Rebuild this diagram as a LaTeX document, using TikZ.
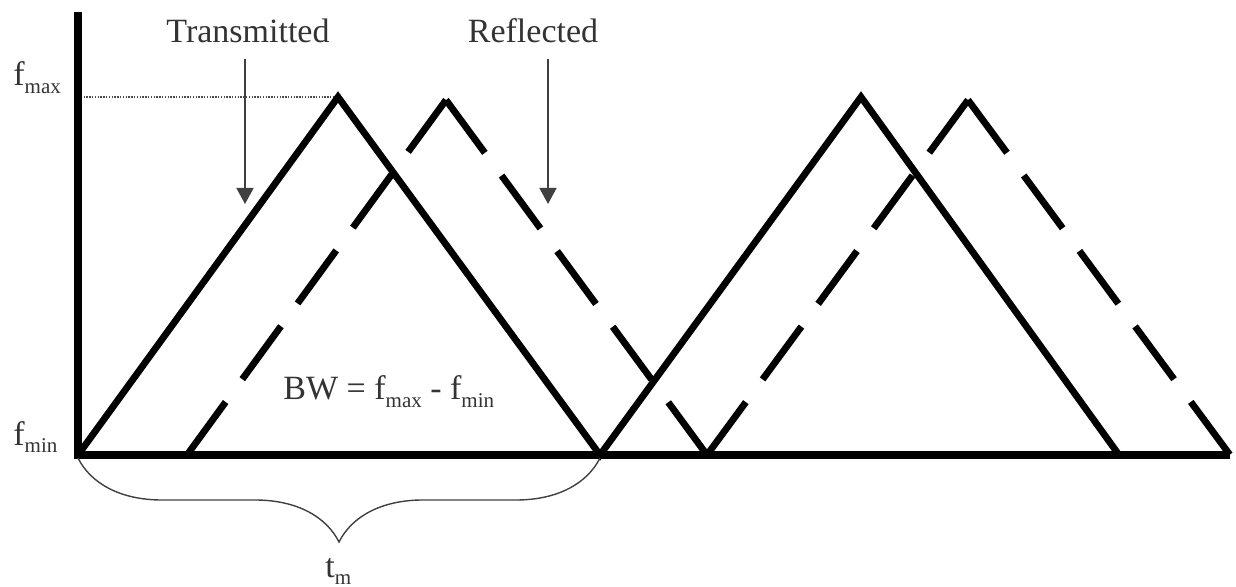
\documentclass[tikz,border=0pt]{standalone}
\usepackage{fontspec}
\setmainfont{Liberation Serif}
\usetikzlibrary{arrows.meta,decorations.pathreplacing}
\newcommand{\lowsub}[1]{\raisebox{-0.45ex}{\fontsize{10.5}{12}\selectfont #1}}

\begin{document}
\begin{tikzpicture}[x=0.5pt,y=-0.5pt,
  axis/.style={line width=3.6pt},
  trans/.style={line width=3.4pt},
  refl/.style={line width=3.4pt,dash pattern=on 32.8pt off 14.1pt},
  level/.style={line width=0.8pt,dash pattern=on 0.7pt off 0.7pt,black!70},
  pointer/.style={-{Triangle[length=8pt,width=8.5pt]},line width=0.7pt,black!75},
  tbrace/.style={decorate,decoration={brace,amplitude=42pt},line width=0.7pt,black!75},
  lbl/.style={font=\fontsize{17}{20}\selectfont,text=black!80,inner sep=0pt}]
  \useasboundingbox (0,0) rectangle (1236,587);
  \coordinate (ytop) at (78,12);
  \coordinate (xend) at (1230,455);
  \coordinate (t0) at (78,455);
  \coordinate (t1) at (338,97);
  \coordinate (t2) at (600,455);
  \coordinate (t3) at (861,97);
  \coordinate (t4) at (1119,455);
  \coordinate (r0) at (187,455);
  \coordinate (r1) at (446,100);
  \coordinate (r2) at (707,455);
  \coordinate (r3) at (968,100);
  \coordinate (r4) at (1230,455);
  \coordinate (txtip) at (245,204);
  \coordinate (rftip) at (548,204);

  \node[lbl,anchor=base west] (fmax) at (13,86) {f\lowsub{max}};
  \node[lbl,anchor=base west] (fmin) at (13,445) {f\lowsub{min}};
  \node[lbl,anchor=base] (tx) at (248,43) {Transmitted};
  \node[lbl,anchor=base] (rf) at (533,43) {Reflected};
  \node[lbl,anchor=base west] (bw) at (283,400) {BW = f\lowsub{max} - f\lowsub{min}};
  \node[lbl,anchor=base west] (tm) at (325,577) {t\lowsub{m}};

  \draw[level] (t1 -| t0) -- (t1);
  \draw[axis] (ytop) -- (t0) -- (xend);
  \draw[trans] (t0) -- (t1) -- (t2) -- (t3) -- (t4);
  \foreach \a/\b in {r0/r1,r1/r2,r2/r3,r3/r4}
    \draw[refl] (\a) -- (\b);
  \draw[pointer,shorten <=7.5pt] (tx.south -| txtip) -- (txtip);
  \draw[pointer,shorten <=7.5pt] (rf.south -| rftip) -- (rftip);
  \draw[tbrace] ([yshift=-1.5pt]t2) -- ([yshift=-1.5pt]t0);
\end{tikzpicture}
\end{document}
